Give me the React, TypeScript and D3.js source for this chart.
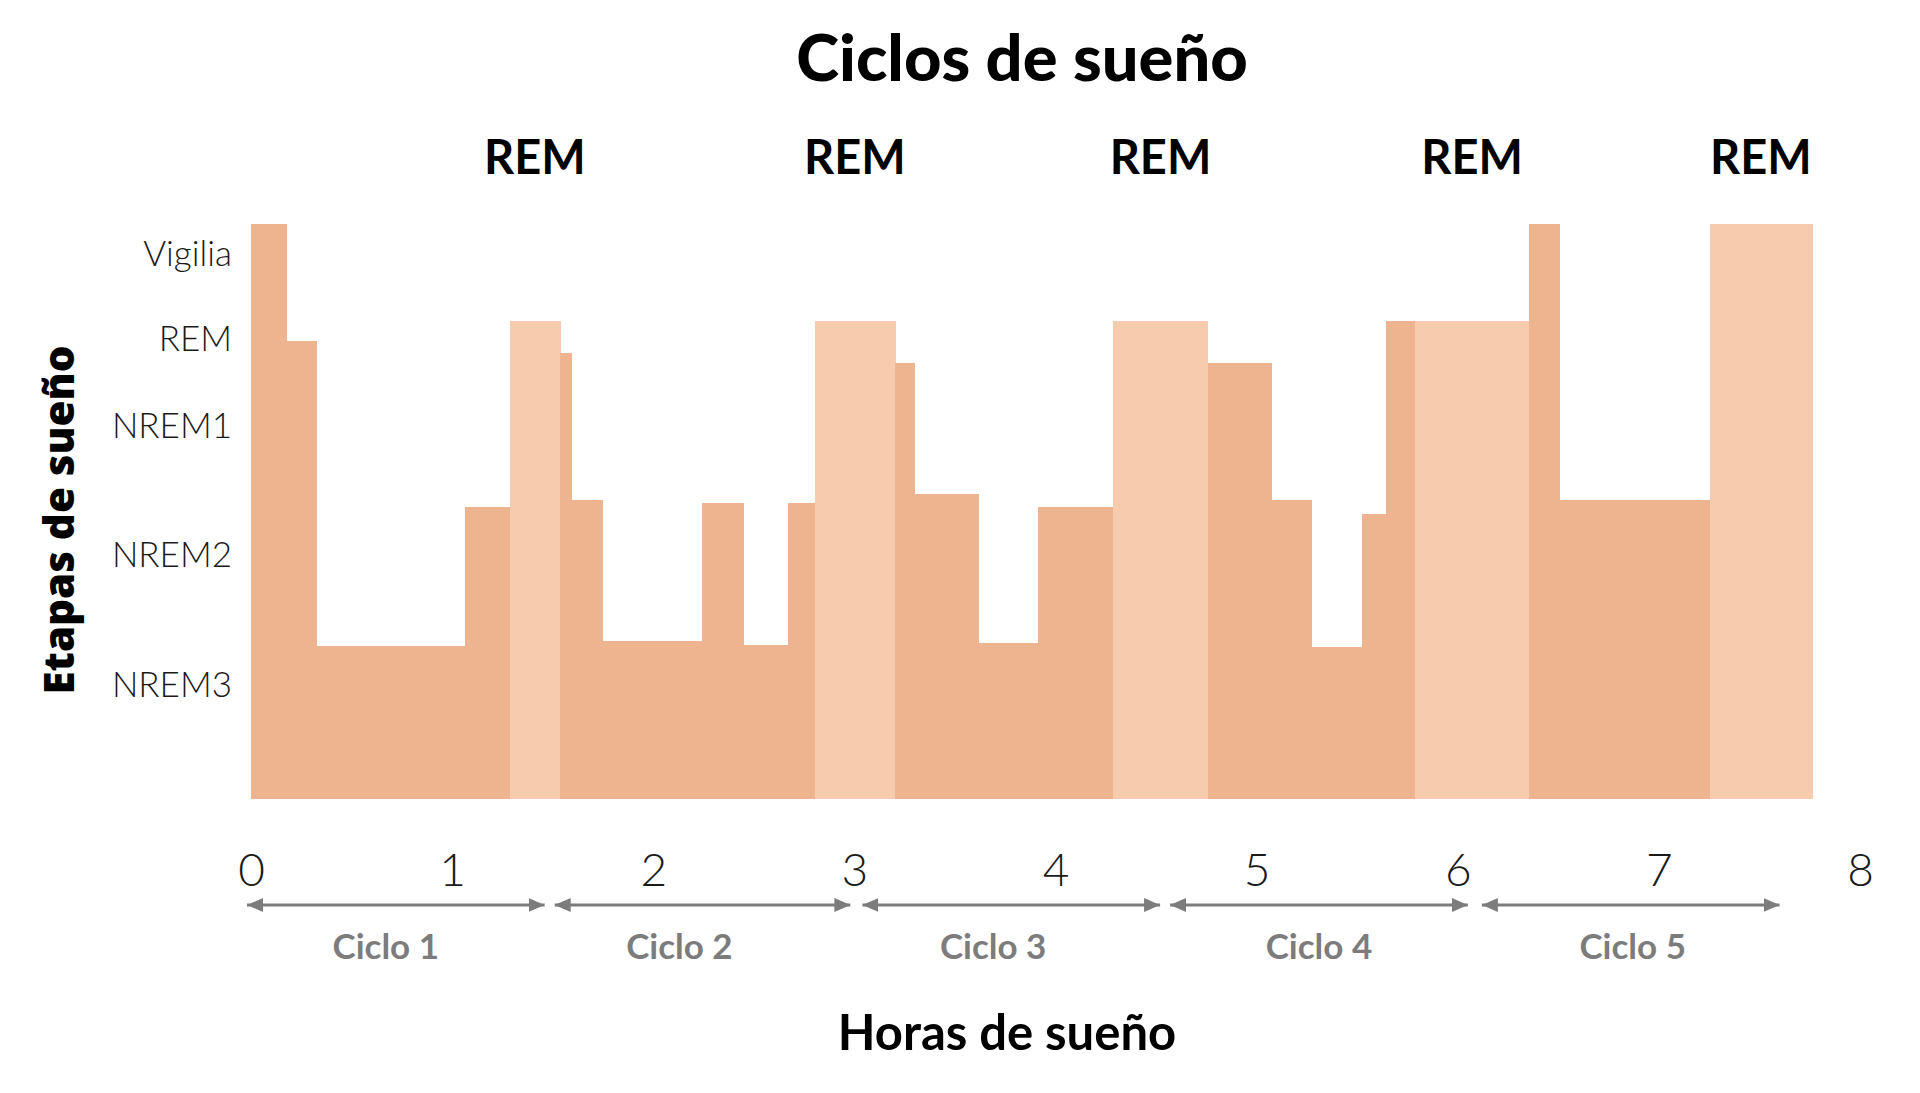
import React, { useEffect, useRef } from 'react';
import * as d3 from 'd3';

const WIDTH = 1920;
const HEIGHT = 1093;

// Límites de cada tramo del hipnograma (horas)
const limitesHoras = [
  0, 0.178, 0.325, 1.066, 1.286, 1.537, 1.594, 1.747, 2.243, 2.449, 2.672, 2.803, 3.202, 3.299,
  3.618, 3.911, 4.288, 4.756, 5.076, 5.274, 5.524, 5.641, 5.789, 6.354, 6.508, 7.252, 7.762,
];
// Altura de cada tramo (0 = base, 100 = vigilia)
const nivelTramo = [
  100, 79.7, 26.6, 50.8, 83.1, 77.5, 52.0, 27.4, 51.4, 26.7, 51.4, 83.1, 75.8,
  53.0, 27.1, 50.8, 83.1, 75.8, 52.0, 26.4, 49.5, 83.1, 83.1, 100, 52.0, 100,
];
// Tramos de sueño REM (color claro)
const tramoREM = [
  false, false, false, false, true, false, false, false, false, false, false, true, false,
  false, false, false, true, false, false, false, false, false, true, false, false, true,
];

const etapas = ['Vigilia', 'REM', 'NREM1', 'NREM2', 'NREM3'];
const etapaNivel = [94.8, 79.9, 64.8, 42.4, 19.7];

const horasTicks = [0, 1, 2, 3, 4, 5, 6, 7, 8];

const ciclos = ['Ciclo 1', 'Ciclo 2', 'Ciclo 3', 'Ciclo 4', 'Ciclo 5'];
const cicloInicio = [-0.02, 1.51, 3.04, 4.57, 6.12];
const cicloFin = [1.46, 2.98, 4.52, 6.05, 7.6];
const cicloEtiqueta = [0.67, 2.13, 3.69, 5.31, 6.87];

const COLOR_NREM = '#eeb48f';
const COLOR_REM = '#f6cbae';
const GRIS = '#7c7c7c';

const App: React.FC = () => {
  const svgRef = useRef<SVGSVGElement>(null);

  useEffect(() => {
    if (!svgRef.current) return;
    const svg = d3.select(svgRef.current);
    svg.selectAll('*').remove();

    const xScale = d3.scaleLinear().domain([0, 8]).range([251, 1860]);
    const yScale = d3.scaleLinear().domain([0, 100]).range([798.5, 224]);

    const tramos = nivelTramo.map((nivel, i) => ({
      x0: limitesHoras[i],
      x1: limitesHoras[i + 1],
      nivel,
      rem: tramoREM[i],
    }));

    // Title
    svg.append('text')
      .attr('x', 1022)
      .attr('y', 81)
      .attr('text-anchor', 'middle')
      .attr('font-family', 'Lato, sans-serif')
      .attr('font-weight', 900)
      .attr('font-size', 65)
      .attr('fill', '#000')
      .text('Ciclos de sueño');

    // Bars
    svg.append('g')
      .attr('class', 'tramos')
      .attr('shape-rendering', 'crispEdges')
      .selectAll('rect')
      .data(tramos)
      .enter()
      .append('rect')
      .attr('x', d => xScale(d.x0))
      .attr('width', d => xScale(d.x1) - xScale(d.x0) + 0.5)
      .attr('y', d => yScale(d.nivel))
      .attr('height', d => yScale(0) - yScale(d.nivel))
      .attr('fill', d => (d.rem ? COLOR_REM : COLOR_NREM));

    // REM labels over the light bars
    svg.append('g')
      .selectAll('text')
      .data(tramos.filter(d => d.rem))
      .enter()
      .append('text')
      .attr('x', d => xScale((d.x0 + d.x1) / 2))
      .attr('y', 174)
      .attr('text-anchor', 'middle')
      .attr('font-family', 'Lato, sans-serif')
      .attr('font-weight', 700)
      .attr('font-size', 47)
      .attr('fill', '#000')
      .text('REM');

    // Y axis (stages)
    const yAxis = d3.axisLeft(yScale)
      .tickValues(etapaNivel)
      .tickSize(0)
      .tickPadding(19)
      .tickFormat((_, i) => etapas[i]);

    svg.append('g')
      .attr('transform', `translate(${xScale(0)}, 0)`)
      .call(yAxis)
      .call(g => g.select('.domain').remove())
      .call(g => g.selectAll('.tick text')
        .attr('fill', '#1a1a1a')
        .attr('font-family', 'Lato, sans-serif')
        .attr('font-weight', 300)
        .attr('font-size', 35));

    // X axis (hours)
    const xAxis = d3.axisBottom(xScale)
      .tickValues(horasTicks)
      .tickSize(0)
      .tickPadding(55)
      .tickFormat(d => String(d));

    svg.append('g')
      .attr('transform', `translate(0, ${yScale(0)})`)
      .call(xAxis)
      .call(g => g.select('.domain').remove())
      .call(g => g.selectAll('.tick text')
        .attr('fill', '#1a1a1a')
        .attr('font-family', 'Lato, sans-serif')
        .attr('font-weight', 300)
        .attr('font-size', 46));

    // Arrow markers
    const defs = svg.append('defs');
    defs.append('marker')
      .attr('id', 'punta')
      .attr('markerUnits', 'userSpaceOnUse')
      .attr('viewBox', '0 0 16 14')
      .attr('markerWidth', 16)
      .attr('markerHeight', 14)
      .attr('refX', 16)
      .attr('refY', 7)
      .attr('orient', 'auto-start-reverse')
      .append('path')
      .attr('d', 'M0,0 L16,7 L0,14 Z')
      .attr('fill', GRIS);

    const arrowY = 905;
    svg.append('g')
      .attr('class', 'ciclos')
      .selectAll('line')
      .data(ciclos)
      .enter()
      .append('line')
      .attr('x1', (_, i) => xScale(cicloInicio[i]))
      .attr('x2', (_, i) => xScale(cicloFin[i]))
      .attr('y1', arrowY)
      .attr('y2', arrowY)
      .attr('stroke', GRIS)
      .attr('stroke-width', 3)
      .attr('marker-start', 'url(#punta)')
      .attr('marker-end', 'url(#punta)');

    svg.append('g')
      .selectAll('text')
      .data(ciclos)
      .enter()
      .append('text')
      .attr('x', (_, i) => xScale(cicloEtiqueta[i]))
      .attr('y', 959)
      .attr('text-anchor', 'middle')
      .attr('font-family', 'Lato, sans-serif')
      .attr('font-weight', 700)
      .attr('font-size', 35)
      .attr('fill', GRIS)
      .text(d => d);

    // Axis titles
    svg.append('text')
      .attr('x', 1007)
      .attr('y', 1050)
      .attr('text-anchor', 'middle')
      .attr('font-family', 'Lato, sans-serif')
      .attr('font-weight', 700)
      .attr('font-size', 49)
      .attr('fill', '#000')
      .text('Horas de sueño');

    svg.append('text')
      .attr('transform', 'translate(74, 520) rotate(-90)')
      .attr('text-anchor', 'middle')
      .attr('font-family', '"Open Sans", sans-serif')
      .attr('font-weight', 800)
      .attr('font-size', 42)
      .attr('fill', '#000')
      .text('Etapas de sueño');
  }, []);

  return (
    <svg
      ref={svgRef}
      width={WIDTH}
      height={HEIGHT}
      style={{ position: 'absolute', left: 0, top: 0, background: '#fff' }}
    />
  );
};

export default App;
